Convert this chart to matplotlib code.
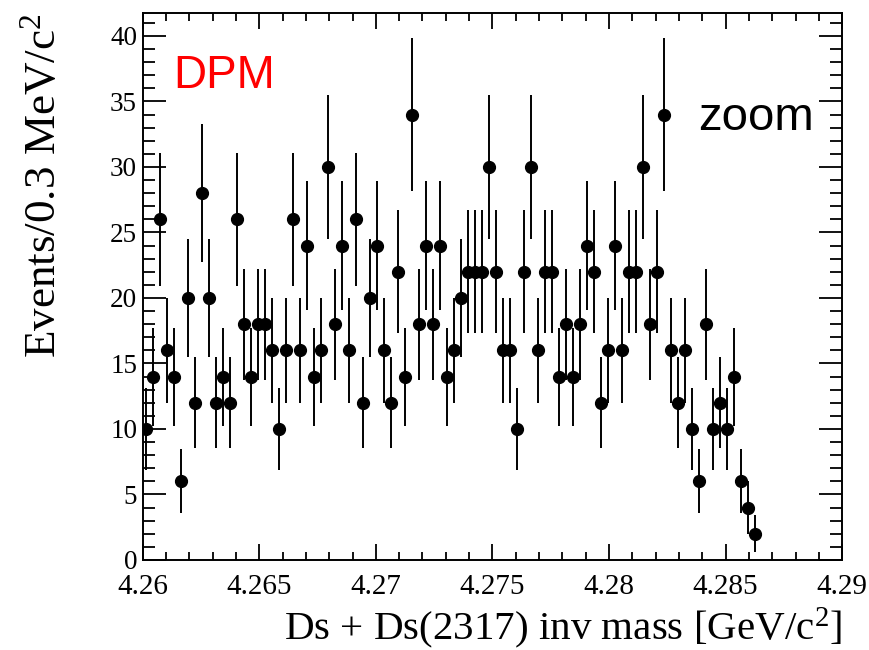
"""
Ds + Ds(2317) invariant-mass spectrum from the DPM sample (zoomed window),
drawn as a ROOT-style histogram with Poisson error bars.
"""

import numpy as np
import matplotlib

matplotlib.use("Agg")
import matplotlib.pyplot as plt
from matplotlib.ticker import MultipleLocator

plt.rcParams["font.family"] = ["Liberation Serif", "DejaVu Serif"]
plt.rcParams["mathtext.fontset"] = "custom"
plt.rcParams["mathtext.rm"] = "Liberation Serif"
plt.rcParams["mathtext.it"] = "Liberation Serif:italic"

# Histogram binning (GeV/c^2) and counts per 0.3 MeV bin
bin_lo = 4.26
bin_width = 0.0003
counts = [
    10, 14, 26, 16, 14, 6, 20, 12, 28, 20, 12, 14, 12, 26, 18, 14, 18, 18, 16, 10,
    16, 26, 16, 24, 14, 16, 30, 18, 24, 16, 26, 12, 20, 24, 16, 12, 22, 14, 34, 18,
    24, 18, 24, 14, 16, 20, 22, 22, 22, 30, 22, 16, 16, 10, 22, 30, 16, 22, 22, 14,
    18, 14, 18, 24, 22, 12, 16, 24, 16, 22, 22, 30, 18, 22, 34, 16, 12, 16, 10, 6,
    18, 10, 12, 10, 14, 6, 4, 2,
]

x_ticks = [4.26, 4.265, 4.27, 4.275, 4.28, 4.285, 4.29]
x_tick_labels = ["4.26", "4.265", "4.27", "4.275", "4.28", "4.285", "4.29"]
y_ticks = [0, 5, 10, 15, 20, 25, 30, 35, 40]

counts = np.asarray(counts, dtype=float)
centers = bin_lo + bin_width * (np.arange(len(counts)) + 0.5)
errors = np.sqrt(counts)

fig = plt.figure(figsize=(8.7, 6.5), dpi=100)
ax = fig.add_axes([0.164, 0.1385, 0.804, 0.8415])

ax.errorbar(centers, counts, yerr=errors, fmt="o", color="black",
            markersize=8.5, elinewidth=1.4, capsize=0)

ax.set_xlim(4.26, 4.29)
ax.set_ylim(0, 41.75)

ax.set_xticks(x_ticks)
ax.set_xticklabels(x_tick_labels, fontsize=21)
ax.set_yticks(y_ticks)
ax.set_yticklabels([str(v) for v in y_ticks], fontsize=19.5)
ax.xaxis.set_minor_locator(MultipleLocator(0.001))
ax.yaxis.set_minor_locator(MultipleLocator(1))

for side in ax.spines.values():
    side.set_linewidth(1.4)

ax.tick_params(which="both", direction="in", top=True, right=True, width=1.3)
ax.tick_params(axis="x", which="major", length=11.5, pad=10)
ax.tick_params(axis="x", which="minor", length=5.8)
ax.tick_params(axis="y", which="major", length=16.5, pad=4)
ax.tick_params(axis="y", which="minor", length=8.6)

ax.set_xlabel(r"Ds + Ds(2317) inv mass [GeV/c$^{2}$]", fontsize=29.5,
              loc="right", va="baseline")
ax.xaxis.set_label_coords(1.0, -0.145)
ax.set_ylabel(r"Events/0.3 MeV/c$^{2}$", fontsize=32.5, loc="top",
              va="baseline")
ax.yaxis.set_label_coords(-0.1255, 1.0)

ax.text(0.0434, 0.863, "DPM", transform=ax.transAxes, color="red",
        fontsize=33, family=["Liberation Sans", "DejaVu Sans"],
        ha="left", va="baseline")
ax.text(0.794, 0.786, "zoom", transform=ax.transAxes, color="black",
        fontsize=34, family=["Liberation Sans", "DejaVu Sans"],
        ha="left", va="baseline")

fig.savefig("out.png", dpi=100)
